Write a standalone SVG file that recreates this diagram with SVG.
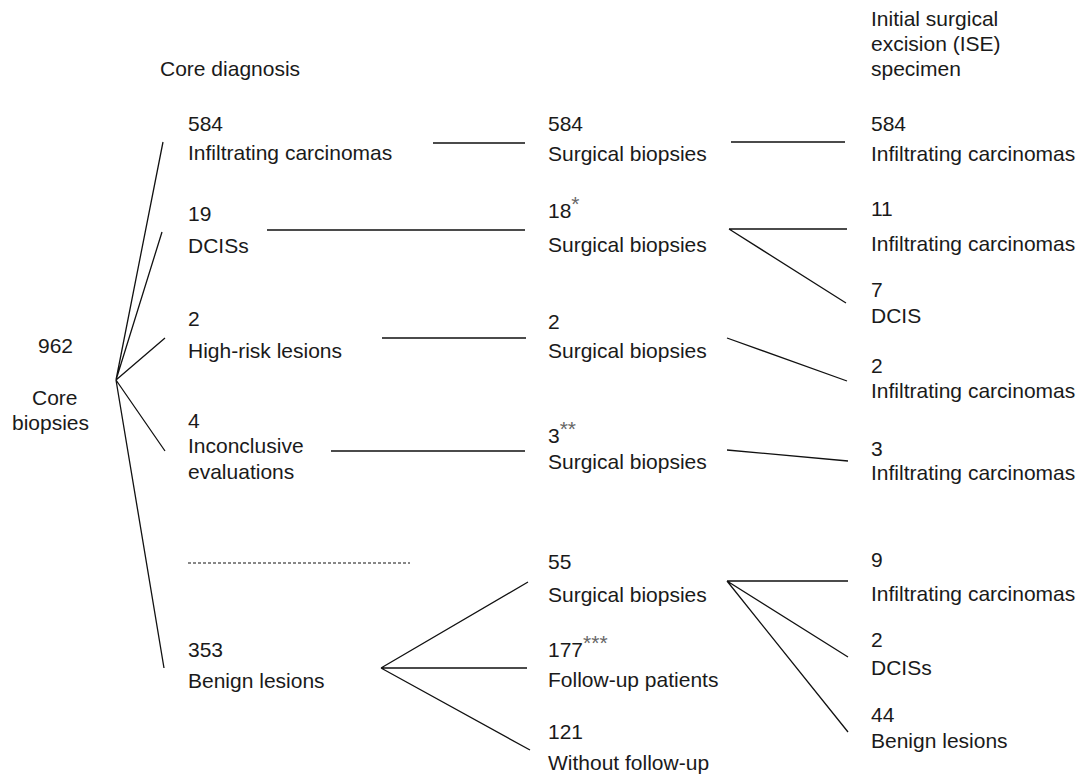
<svg xmlns="http://www.w3.org/2000/svg" width="1080" height="775" viewBox="0 0 1080 775">
<style>
text{font-family:"Liberation Sans",Arial,sans-serif;font-size:21px;fill:#1a1a1a}
.sup{font-size:21px;fill:#666}
.ln{stroke:#111;stroke-width:1.3;fill:none}
.dash{stroke:#111;stroke-width:1;stroke-dasharray:3 2;fill:none}
</style>
<rect width="1080" height="775" fill="#fff"/>
<g id="headers">
<text x="160" y="76">Core diagnosis</text>
<text x="871" y="26">Initial surgical</text>
<text x="871" y="51">excision (ISE)</text>
<text x="871" y="76">specimen</text>
</g>
<g id="root"><text x="38" y="353">962</text><text x="32" y="405">Core</text><text x="12" y="430">biopsies</text></g>
<g id="c1-infiltrating"><text x="188" y="131">584</text><text x="188" y="160">Infiltrating carcinomas</text></g>
<g id="c1-dcis"><text x="188" y="221">19</text><text x="188" y="253">DCISs</text></g>
<g id="c1-highrisk"><text x="188" y="326">2</text><text x="188" y="358">High-risk lesions</text></g>
<g id="c1-inconclusive"><text x="188" y="428">4</text><text x="188" y="453">Inconclusive</text><text x="188" y="479">evaluations</text></g>
<g id="c1-benign"><text x="188" y="657">353</text><text x="188" y="688">Benign lesions</text></g>
<g id="c2-sb1"><text x="548" y="131">584</text><text x="548" y="161">Surgical biopsies</text></g>
<g id="c2-sb2"><text x="548" y="218">18<tspan class="sup" dy="-7">*</tspan></text><text x="548" y="252">Surgical biopsies</text></g>
<g id="c2-sb3"><text x="548" y="329">2</text><text x="548" y="358">Surgical biopsies</text></g>
<g id="c2-sb4"><text x="548" y="443">3<tspan class="sup" dy="-7">**</tspan></text><text x="548" y="469">Surgical biopsies</text></g>
<g id="c2-sb5"><text x="548" y="569">55</text><text x="548" y="602">Surgical biopsies</text></g>
<g id="c2-followup"><text x="548" y="657">177<tspan class="sup" dy="-7">***</tspan></text><text x="548" y="687">Follow-up patients</text></g>
<g id="c2-without"><text x="548" y="739">121</text><text x="548" y="770">Without follow-up</text></g>
<g id="c3-r1"><text x="871" y="131">584</text><text x="871" y="161">Infiltrating carcinomas</text></g>
<g id="c3-r2a"><text x="871" y="216">11</text><text x="871" y="251">Infiltrating carcinomas</text></g>
<g id="c3-r2b"><text x="871" y="297">7</text><text x="871" y="323">DCIS</text></g>
<g id="c3-r3"><text x="871" y="373">2</text><text x="871" y="398">Infiltrating carcinomas</text></g>
<g id="c3-r4"><text x="871" y="456">3</text><text x="871" y="480">Infiltrating carcinomas</text></g>
<g id="c3-r5a"><text x="871" y="567">9</text><text x="871" y="601">Infiltrating carcinomas</text></g>
<g id="c3-r5b"><text x="871" y="647">2</text><text x="871" y="675">DCISs</text></g>
<g id="c3-r5c"><text x="871" y="722">44</text><text x="871" y="748">Benign lesions</text></g>
<g id="connectors">
<path class="ln" d="M116 380L163 142M116 380L162 232M116 380L165 338M116 380L165 451M116 380L164 668"/>
<path class="ln" d="M433 143H525M731 142H845"/>
<path class="ln" d="M267 230H525M729 229H847M729 229L846 303"/>
<path class="ln" d="M382 338H526M727 338L847 381"/>
<path class="ln" d="M331 451H525M727 450L848 461"/>
<path class="dash" d="M188 563H410"/>
<path class="ln" d="M381 668L528 582M381 668H527M381 668L530 750"/>
<path class="ln" d="M727 581H848M727 581L848 657M727 581L848 732"/>
</g>
</svg>
